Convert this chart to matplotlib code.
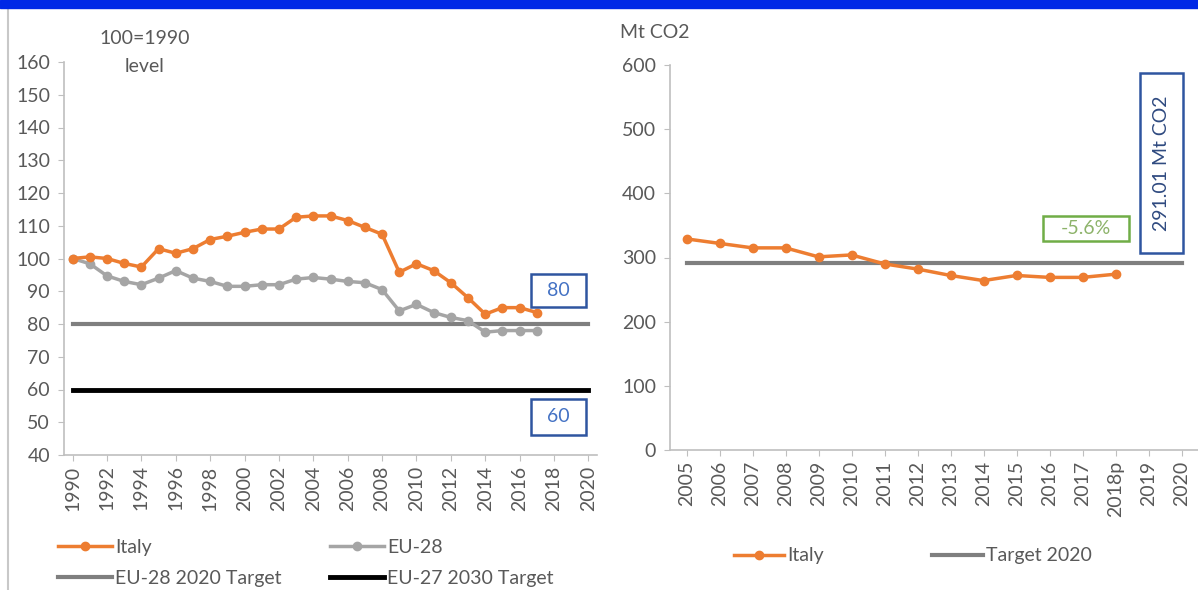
import matplotlib.pyplot as plt
from matplotlib.lines import Line2D
from matplotlib.patches import Rectangle

plt.rcParams['font.family'] = ['Lato', 'DejaVu Sans']

# --- Data ---
years = list(range(1990, 2021))
data_years = list(range(1990, 2018))
italy_idx = [100, 100.5, 100, 98.5, 97.4, 103, 101.6, 103, 105.8, 106.8, 108, 109, 109,
             112.6, 113, 113, 111.6, 109.5, 107.4, 95.8, 98.4, 96.3, 92.6, 88, 83, 85, 85, 83.5]
eu28_idx = [100, 98.4, 94.7, 93, 92, 94, 96.3, 94, 93, 91.5, 91.5, 92, 92,
            93.7, 94.2, 93.7, 93, 92.6, 90.5, 84, 86, 83.5, 82, 81, 77.5, 78, 78, 78]
eu28_2020_target = 80
eu27_2030_target = 60

co2_cats = ['2005', '2006', '2007', '2008', '2009', '2010', '2011', '2012', '2013',
            '2014', '2015', '2016', '2017', '2018p', '2019', '2020']
italy_mt = [329, 322, 315, 315, 301, 304, 290, 282, 272, 264, 272, 269, 269, 274]
target_2020 = 291.01

orange = '#ED7D31'
lgray = '#A5A5A5'
dgray = '#7F7F7F'
txt = '#595959'
axc = '#BFBFBF'
fs = 14
W, H = 1198, 590

fig = plt.figure(figsize=(W / 100, H / 100), dpi=100)

# top blue band and left border line
fig.patches.append(Rectangle((0, 1 - 8 / H), 1, 8 / H, transform=fig.transFigure,
                             color='#0028E6', zorder=5))
fig.add_artist(Line2D([8 / W, 8 / W], [0, 1 - 10 / H], transform=fig.transFigure,
                      color='#C8C8C8', lw=1.5))


def px_box(x0, y0, x1, y1, ec, label, color, rot=0):
    # framed label placed in figure pixel coordinates
    fig.patches.append(Rectangle((x0 / W, 1 - y1 / H), (x1 - x0) / W, (y1 - y0) / H,
                                 transform=fig.transFigure, fc='white', ec=ec, lw=1.8, zorder=4))
    fig.text((x0 + x1) / 2 / W, 1 - (y0 + y1) / 2 / H, label, color=color, fontsize=fs,
             ha='center', va='center', rotation=rot, zorder=6)


def style(ax):
    for s in ['top', 'right']:
        ax.spines[s].set_visible(False)
    for s in ['left', 'bottom']:
        ax.spines[s].set_color(axc)
        ax.spines[s].set_linewidth(1.2)
    ax.tick_params(colors=axc, labelcolor=txt, labelsize=fs, length=4)
    ax.tick_params(axis='y', pad=6)


# --- Left chart: index 1990=100 ---
ax1 = fig.add_axes([64 / W, 1 - 455 / H, (597 - 64) / W, (455 - 62) / H])
ax1.plot(years, [eu28_2020_target] * len(years), color=dgray, lw=3, label='EU-28 2020 Target')
ax1.plot(years, [eu27_2030_target] * len(years), color='black', lw=3.5, label='EU-27 2030 Target')
ax1.plot(data_years, eu28_idx, color=lgray, lw=2.5, marker='o', ms=6, label='EU-28')
ax1.plot(data_years, italy_idx, color=orange, lw=2.5, marker='o', ms=6, label='Italy')
ax1.set_xlim(1989.5, 2020.5)
ax1.set_ylim(40, 160)
ax1.set_yticks(range(40, 161, 10))
ax1.set_xticks(range(1990, 2021, 2))
ax1.set_xticklabels([str(y) for y in range(1990, 2021, 2)], rotation=90)
style(ax1)

px_box(531, 274, 586, 307, '#2F55A0', '80', '#4472C4')
px_box(531, 399, 586, 435, '#2F55A0', '60', '#4472C4')
fig.text(145 / W, 1 - 38 / H, '100=1990', color=txt, fontsize=fs, ha='center', va='center')
fig.text(145 / W, 1 - 66 / H, 'level', color=txt, fontsize=fs, ha='center', va='center')

h = {l.get_label(): l for l in ax1.get_lines()}
fig.legend([h['Italy'], h['EU-28 2020 Target'], h['EU-28'], h['EU-27 2030 Target']],
           ['Italy', 'EU-28 2020 Target', 'EU-28', 'EU-27 2030 Target'],
           ncol=2, loc='center left', bbox_to_anchor=(40 / W, 1 - 563 / H),
           frameon=False, fontsize=fs, handlelength=2.8, handletextpad=0.15,
           columnspacing=2.5, labelspacing=0.75, labelcolor=txt)

# --- Right chart: Mt CO2 ---
ax2 = fig.add_axes([670 / W, 1 - 450 / H, (W - 670) / W, (450 - 65) / H])
xs = list(range(len(co2_cats)))
ax2.plot(xs, [target_2020] * len(xs), color=dgray, lw=3, label='Target 2020')
ax2.plot(xs[:len(italy_mt)], italy_mt, color=orange, lw=2.5, marker='o', ms=6, label='Italy')
ax2.set_xlim(-0.5, len(co2_cats) - 0.5)
ax2.set_ylim(0, 600)
ax2.set_yticks(range(0, 601, 100))
ax2.set_xticks(xs)
ax2.set_xticklabels(co2_cats, rotation=90)
style(ax2)

px_box(1140, 73, 1183, 253, '#2F55A0', '291.01 Mt CO2', '#2F4A80', rot=90)
px_box(1043, 216, 1129, 241, '#70AD47', '-5.6%', '#8DB36A')
fig.text(655 / W, 1 - 32 / H, 'Mt CO2', color=txt, fontsize=fs, ha='center', va='center')

h2 = {l.get_label(): l for l in ax2.get_lines()}
fig.legend([h2['Italy'], h2['Target 2020']], ['Italy', 'Target 2020'],
           ncol=2, loc='center left', bbox_to_anchor=(716 / W, 1 - 556 / H),
           frameon=False, fontsize=fs, handlelength=2.6, handletextpad=0.15,
           columnspacing=5.6, labelcolor=txt)

fig.savefig('out.png', dpi=100, facecolor='white')
